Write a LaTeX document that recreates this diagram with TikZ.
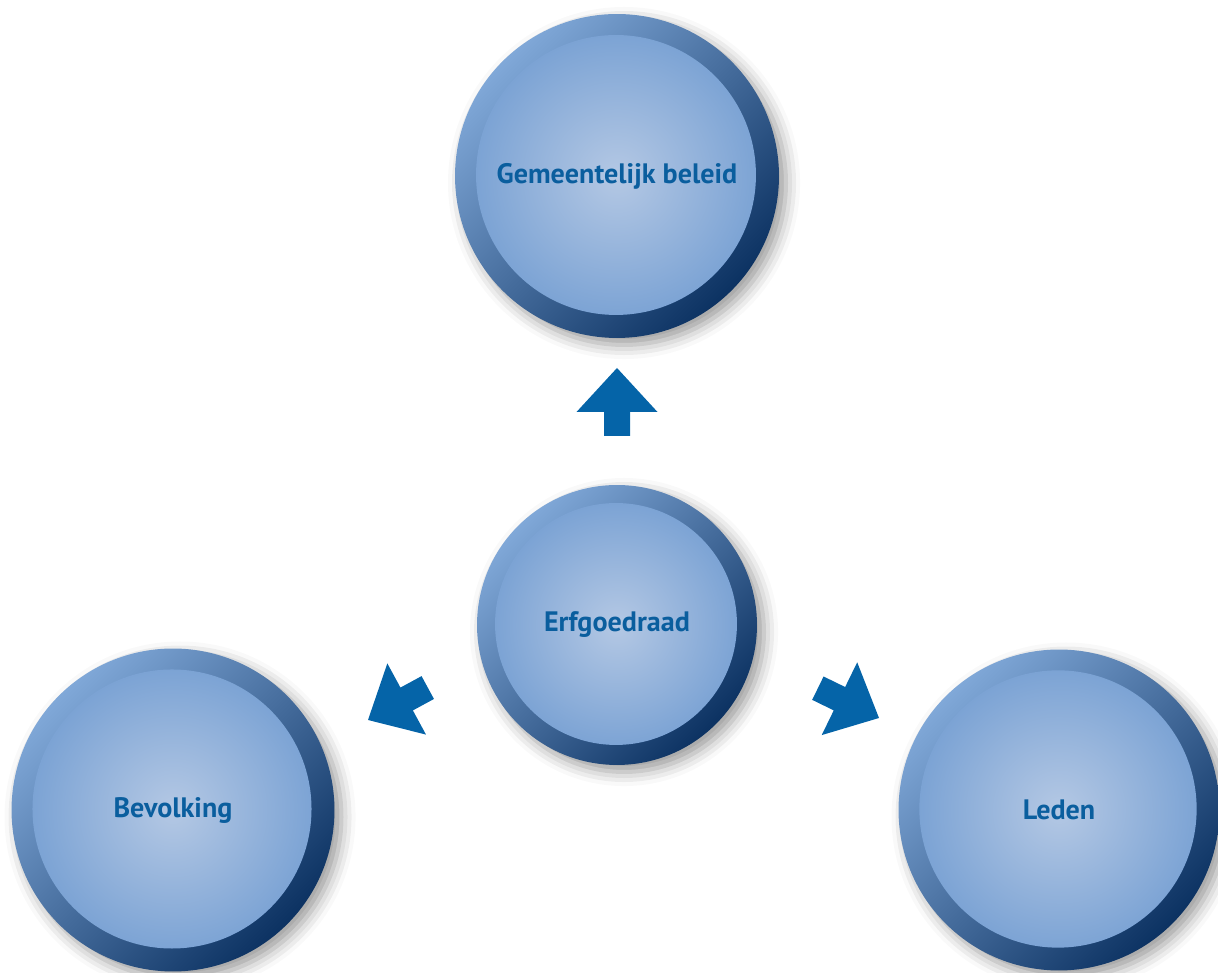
\documentclass[tikz,border=0pt]{standalone}
\usepackage{fontspec}
\setmainfont{PT Sans}
\usetikzlibrary{shadows.blur}
\definecolor{rimlight}{RGB}{128,168,216}
\definecolor{rimmid}{RGB}{52,114,180}
\definecolor{rimdark}{RGB}{12,50,98}
\definecolor{facelight}{RGB}{180,200,228}
\definecolor{facedark}{RGB}{116,158,210}
\definecolor{labelblue}{RGB}{10,94,158}
\definecolor{arrowblue}{RGB}{5,100,168}
\begin{document}
\begin{tikzpicture}[x=0.02cm,y=0.02cm,inner sep=0pt,outer sep=0pt,
bubble/.style={circle,minimum size=#1,top color=rimlight,middle color=rimmid,bottom color=rimdark,shading angle=45,
  blur shadow={shadow xshift=4pt,shadow yshift=-4pt,shadow blur radius=8pt,shadow opacity=40},
  path picture={\shade[inner color=facelight,outer color=facedark] ([shift={(-1,1)}]path picture bounding box.center) circle (0.432*#1);},
  text=labelblue,font=\fontsize{16}{19}\selectfont\bfseries},
blockarrow/.pic={\fill[arrowblue] (0,0) -- (-44,40.5) -- (-44,13) -- (-68,13) -- (-68,-13) -- (-44,-13) -- (-44,-40.5) -- cycle;}]
\useasboundingbox (0,0) rectangle (1218,973);
\draw (617,797) node[bubble=6.48cm] (beleid) {Gemeentelijk beleid};
\draw (617,348) node[bubble=5.6cm] (raad) {Erfgoedraad};
\draw (173,163) node[bubble=6.46cm] (bevolking) {Bevolking};
\draw (1059,163) node[bubble=6.42cm] (leden) {Leden};
% arrows
\coordinate (uptip) at (617,605);
\coordinate (lefttip) at (368,253);
\coordinate (righttip) at (879,255);
\pic[rotate=90] at (uptip) {blockarrow};
\pic[rotate=208.5] at (lefttip) {blockarrow};
\pic[rotate=-26] at (righttip) {blockarrow};
\end{tikzpicture}
\end{document}
